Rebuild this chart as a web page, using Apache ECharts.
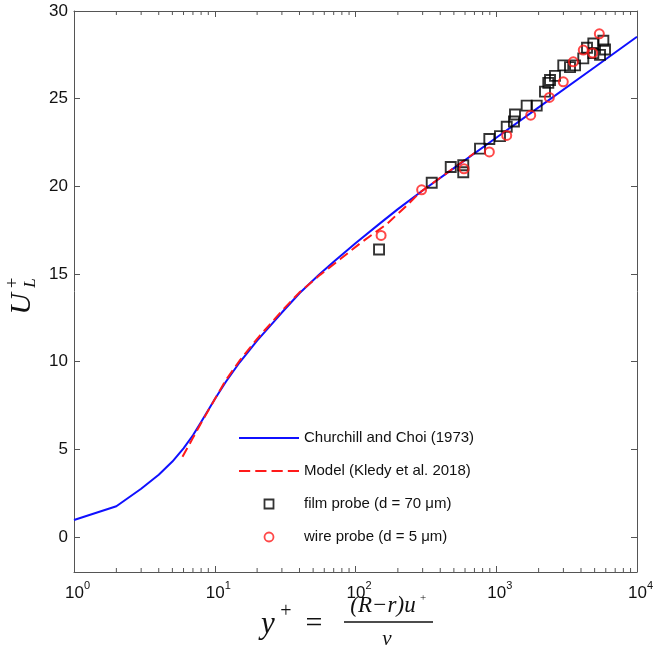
<!DOCTYPE html>
<html>
<head>
<meta charset="utf-8">
<script src="https://cdn.jsdelivr.net/npm/echarts@6/dist/echarts.min.js"></script>
<style>
  html, body { margin: 0; padding: 0; background: #fff; }
  #chart { width: 653px; height: 656px; }
</style>
</head>
<body>
<div id="chart"></div>
<script>
// Churchill and Choi (1973) curve
var ccX = [1, 2, 3, 4, 5, 6, 7, 8, 10, 12, 15, 20, 30, 40, 55, 70, 100, 150, 200, 300, 500, 1000, 2000, 5000, 10000];
var ccY = [0.97, 1.75, 2.75, 3.55, 4.3, 5.05, 5.8, 6.55, 7.85, 8.85, 9.95, 11.2, 12.8, 13.9, 14.95, 15.7, 16.75, 17.9, 18.7, 19.76, 21.04, 22.77, 24.5, 26.79, 28.53];

// Model (Kledy et al. 2018)
var modelX = [5.9, 7, 8, 10, 12, 15, 20, 30, 40, 56, 78, 108, 167, 231, 287, 500, 700];
var modelY = [4.57, 5.65, 6.5, 7.85, 8.95, 10.05, 11.3, 12.9, 13.95, 14.95, 15.85, 16.75, 17.85, 18.9, 19.65, 21.05, 21.9];

// film probe (d = 70 um)
var filmX = [147, 348, 475, 583, 583, 767, 893, 1063, 1187, 1336, 1359, 1645, 1938, 2220, 2343, 2410, 2614, 2994, 3342, 3630, 4153, 4414, 4895, 4895, 5460, 5766, 5926];
var filmY = [16.4, 20.2, 21.1, 21.2, 20.8, 22.15, 22.7, 22.86, 23.4, 23.7, 24.1, 24.6, 24.6, 25.4, 25.9, 26.06, 26.3, 26.9, 26.8, 26.9, 27.3, 27.9, 28.15, 27.6, 27.5, 28.3, 27.8];

// wire probe (d = 5 um)
var wireX = [152, 295, 590, 893, 1187, 1757, 2383, 2994, 3527, 4153, 4842, 5400];
var wireY = [17.2, 19.8, 21.0, 21.96, 22.9, 24.06, 25.07, 25.96, 27.1, 27.77, 27.6, 28.7];

// minor ticks of the log axis
var minorTicks = [];
[1, 10, 100, 1000].forEach(function (d) {
  for (var k = 2; k <= 9; k++) minorTicks.push(k * d);
});

function pairs(xs, ys) {
  return xs.map(function (x, i) { return [x, ys[i]]; });
}

var chart = echarts.init(document.getElementById('chart'));
var axisColor = '#555';
var serif = '"Liberation Serif", "DejaVu Serif", serif';
var blue = '#1010ff';
var red = '#ff1a1a';

var logAxisBase = {
  type: 'log',
  logBase: 10,
  min: 1,
  max: 10000,
  axisLine: { show: true, onZero: false, lineStyle: { color: axisColor, width: 1 } },
  axisTick: { show: true, inside: true, length: 6, lineStyle: { color: axisColor } },
  splitLine: { show: false },
  minorTick: { show: false }
};
var valAxisBase = {
  type: 'value',
  min: -2,
  max: 30,
  splitNumber: 6,
  axisLine: { show: true, onZero: false, lineStyle: { color: axisColor, width: 1 } },
  axisTick: { show: true, inside: true, length: 6, lineStyle: { color: axisColor } },
  splitLine: { show: false }
};

var names = ['Churchill and Choi (1973)', 'Model (Kledy et al. 2018)', 'film probe (d = 70 \u03bcm)', 'wire probe (d = 5 \u03bcm)'];

chart.setOption({
  backgroundColor: '#fff',
  animation: false,
  grid: { left: 74, right: 16, top: 11, bottom: 84, outerBoundsMode: 'none' },
  xAxis: [
    Object.assign({}, logAxisBase, {
      position: 'bottom',
      axisLabel: {
        margin: 8,
        formatter: function (v) {
          return '{b|10}{s|' + Math.round(Math.log10(v)) + '}';
        },
        rich: {
          b: { fontSize: 17, fontFamily: 'Liberation Sans', color: '#111', lineHeight: 22, verticalAlign: 'bottom', padding: [0, 0, 0, 7] },
          s: { fontSize: 11, fontFamily: 'Liberation Sans', color: '#111', lineHeight: 11, verticalAlign: 'top' }
        }
      }
    }),
    Object.assign({}, logAxisBase, { position: 'top', axisLabel: { show: false } })
  ],
  yAxis: [
    Object.assign({}, valAxisBase, {
      position: 'left',
      axisLabel: {
        margin: 6,
        fontSize: 17,
        fontFamily: 'Liberation Sans',
        color: '#111',
        formatter: function (v) { return v < 0 ? '' : String(v); }
      }
    }),
    Object.assign({}, valAxisBase, { position: 'right', axisLabel: { show: false } })
  ],
  legend: {
    data: [
      { name: names[0], icon: 'path://M0,0H60V2H0Z', itemStyle: { color: blue, borderWidth: 0 } },
      { name: names[1], icon: 'path://M0,0H11V2H0Z M16,0H27V2H16Z M32,0H43V2H32Z M48,0H59V2H48Z', itemStyle: { color: red, borderWidth: 0 } },
      { name: names[2], icon: 'path://M0,0H10V10H0Z', itemStyle: { color: 'rgba(0,0,0,0)', borderColor: '#000', borderWidth: 1.8 } },
      { name: names[3], icon: 'circle', itemStyle: { color: 'rgba(0,0,0,0)', borderColor: red, borderWidth: 1.8 } }
    ],
    orient: 'vertical',
    left: 234,
    top: 425,
    itemWidth: 60,
    itemHeight: 9,
    itemGap: 17,
    textStyle: { fontSize: 15, fontFamily: 'Liberation Sans', color: '#111', lineHeight: 16 }
  },
  graphic: [
    // y-axis title U_L^+
    {
      type: 'group',
      x: 22,
      y: 292,
      rotation: Math.PI / 2,
      children: [
        { type: 'text', x: -12, y: 0, style: { text: 'U', font: 'italic 30px ' + serif, fill: '#111', align: 'center', verticalAlign: 'middle' } },
        { type: 'text', x: 9, y: -9, style: { text: '+', font: '19px ' + serif, fill: '#111', align: 'center', verticalAlign: 'middle' } },
        { type: 'text', x: 9, y: 9, style: { text: 'L', font: 'italic 17px ' + serif, fill: '#111', align: 'center', verticalAlign: 'middle' } }
      ]
    },
    // x-axis title y+ = (R-r)u+ / nu
    { type: 'text', x: 268, y: 625, style: { text: 'y', font: 'italic 31px ' + serif, fill: '#111', align: 'center', verticalAlign: 'middle' } },
    { type: 'text', x: 286, y: 612, style: { text: '+', font: '20px ' + serif, fill: '#111', align: 'center', verticalAlign: 'middle' } },
    { type: 'text', x: 314, y: 624, style: { text: '=', font: '30px ' + serif, fill: '#111', align: 'center', verticalAlign: 'middle' } },
    { type: 'text', x: 383, y: 606, style: { text: '(R\u2212r)u', font: 'italic 23px ' + serif, fill: '#111', align: 'center', verticalAlign: 'middle' } },
    { type: 'text', x: 423, y: 598, style: { text: '+', font: '11px ' + serif, fill: '#111', align: 'center', verticalAlign: 'middle' } },
    { type: 'line', shape: { x1: 344, y1: 622, x2: 433, y2: 622 }, style: { stroke: '#111', lineWidth: 1.6 } },
    { type: 'text', x: 387, y: 639, style: { text: '\u03bd', font: 'italic 21px ' + serif, fill: '#111', align: 'center', verticalAlign: 'middle' } }
  ],
  series: [
    {
      name: names[0],
      type: 'line',
      data: pairs(ccX, ccY),
      symbol: 'none',
      lineStyle: { color: blue, width: 2 },
      itemStyle: { color: blue },
      z: 2
    },
    {
      name: names[1],
      type: 'line',
      data: pairs(modelX, modelY),
      symbol: 'none',
      lineStyle: { color: red, width: 2, type: [10, 5] },
      itemStyle: { color: red },
      z: 3
    },
    {
      name: names[2],
      type: 'scatter',
      data: pairs(filmX, filmY),
      symbol: 'rect',
      symbolSize: 10,
      itemStyle: { color: 'rgba(0,0,0,0)', borderColor: '#000', borderWidth: 1.9 },
      z: 4
    },
    {
      name: names[3],
      type: 'scatter',
      data: pairs(wireX, wireY),
      symbol: 'circle',
      symbolSize: 9,
      itemStyle: { color: 'rgba(0,0,0,0)', borderColor: red, borderWidth: 2 },
      z: 5
    },
    {
      type: 'custom',
      silent: true,
      clip: false,
      data: minorTicks.map(function (v) { return [v, 0]; }),
      renderItem: function (params, api) {
        var p = api.coord([api.value(0), api.value(1)]);
        var cs = params.coordSys;
        var yb = cs.y + cs.height;
        return {
          type: 'group',
          children: [
            { type: 'line', shape: { x1: p[0], y1: yb, x2: p[0], y2: yb - 4 }, style: { stroke: axisColor, lineWidth: 1 } },
            { type: 'line', shape: { x1: p[0], y1: cs.y, x2: p[0], y2: cs.y + 4 }, style: { stroke: axisColor, lineWidth: 1 } }
          ]
        };
      },
      z: 1
    }
  ]
});
</script>
</body>
</html>
